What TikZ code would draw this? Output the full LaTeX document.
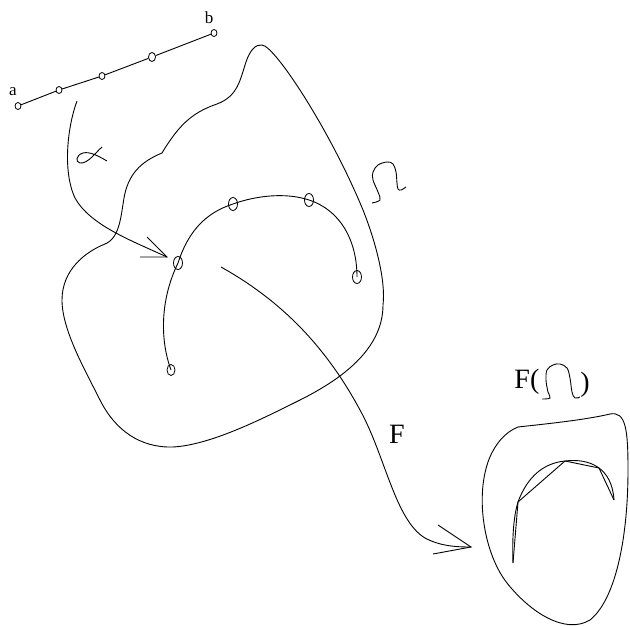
\documentclass[tikz,border=0pt]{standalone}
\usepackage{fontspec}
\setmainfont{Liberation Serif}
\usetikzlibrary{shapes.geometric}
\begin{document}
\begin{tikzpicture}[x=1pt,y=-1pt,line width=0.9pt,
  dotp/.style={draw,ellipse,inner sep=0pt,minimum width=6pt,minimum height=7pt,line width=0.8pt},
  bigp/.style={draw,ellipse,inner sep=0pt,minimum width=9pt,minimum height=13pt,line width=0.8pt},
  curve/.style={line width=0.9pt},
  small/.style={font=\fontsize{17}{19}\selectfont,inner sep=0pt},
  large/.style={font=\fontsize{28}{30}\selectfont,inner sep=0pt}]
\useasboundingbox (0,0) rectangle (630,626);
% segment a-b
\node[dotp] (s1) at (18,106) {};
\node[dotp] (s2) at (59,90) {};
\node[dotp] (s3) at (102,76) {};
\node[dotp,minimum width=7pt,minimum height=9pt] (s4) at (152,57) {};
\node[dotp] (s5) at (214,33) {};
\draw[curve] (s1) -- (s2) -- (s3) -- (s4) -- (s5);
\node[small] (la) at (13,92) {a};
\node[small] (lb) at (209,18) {b};
% domain outline
\draw[curve] (165,148) .. controls (178,128) and (190,113) .. (217,104)
  .. controls (238,96) and (240,80) .. (246,62)
  .. controls (250,50) and (256,44) .. (262,45)
  .. controls (275,46) and (330,130) .. (363,210)
  .. controls (375,240) and (386,280) .. (383,305)
  .. controls (383,350) and (340,380) .. (300,400)
  .. controls (260,420) and (210,445) .. (173,447)
  .. controls (140,448) and (115,430) .. (100,400)
  .. controls (85,370) and (62,330) .. (62,300)
  .. controls (62,270) and (85,252) .. (105,244)
  .. controls (120,238) and (121,215) .. (124,198)
  .. controls (128,175) and (140,162) .. (162,153) -- (165,148);
% Omega sign
\draw[curve] plot[smooth,tension=0.6] coordinates {(372,203) (380,200) (378,192) (373,180) (373,172) (378,165) (387,162) (393,164) (396,172) (397,183) (398,189) (401,190) (406,187)};
% alpha arrow
\coordinate (astart) at (77,101);
\coordinate (atip) at (167,257);
\coordinate (ab1) at (147,237);
\coordinate (ab2) at (140,257);
\draw[curve] (astart) .. controls (68,125) and (62,170) .. (75,198) .. controls (90,225) and (130,240) .. (atip);
\draw[curve] (ab1) -- (atip) -- (ab2);
% alpha symbol
\draw[curve] (102,147) .. controls (96,152) and (88,164) .. (80,163) .. controls (75,162) and (76,155) .. (83,153) .. controls (90,151) and (100,157) .. (107,161);
% inner curve
\node[bigp,minimum width=8pt,minimum height=11pt] (c1) at (171,370) {};
\node[bigp] (c2) at (178,263) {};
\node[bigp] (c3) at (233,204) {};
\node[bigp] (c4) at (309,200) {};
\node[bigp] (c5) at (357,277) {};
\draw[curve] (c1.center) .. controls (160,340) and (160,300) .. (c2.center)
  .. controls (188,232) and (205,213) .. (c3.center)
  .. controls (255,196) and (285,192) .. (c4.center)
  .. controls (340,210) and (357,240) .. (c5.center);
% F arrow
\coordinate (fstart) at (221,267);
\coordinate (ftip) at (471,547);
\coordinate (fb1) at (438,525);
\coordinate (fb2) at (433,554);
\draw[curve] (fstart) .. controls (280,300) and (325,345) .. (360,410)
  .. controls (385,455) and (395,520) .. (425,538)
  .. controls (440,546) and (455,547) .. (ftip);
\draw[curve] (fb1) -- (ftip) -- (fb2);
\node[large] (lF) at (397,434) {F};
% F(Omega)
\node[large,anchor=west] (lFo) at (514,382) {F(};
\node[large,anchor=west] (lFc) at (580,385) {)};
\draw[curve] plot[smooth,tension=0.6] coordinates {(542,399) (550,398) (548,392) (546,380) (547,370) (553,365) (560,364) (567,368) (570,378) (572,392) (575,398) (580,397)};
% image region outline
\draw[curve] (518,427) .. controls (545,424) and (585,420) .. (610,414)
  .. controls (626,411) and (628,430) .. (628,470)
  .. controls (628,540) and (615,600) .. (590,620)
  .. controls (565,635) and (530,612) .. (507,583)
  .. controls (485,555) and (475,500) .. (488,462)
  .. controls (494,445) and (505,432) .. (518,427);
% image curve and polygon
\coordinate (q1) at (513,563);
\coordinate (q2) at (518,502);
\coordinate (q3) at (565,461);
\coordinate (q4) at (599,468);
\coordinate (q5) at (614,500);
\draw[curve] (q1) .. controls (512,535) and (514,515) .. (q2)
  .. controls (528,475) and (545,463) .. (q3)
  .. controls (590,458) and (612,468) .. (q5);
\draw[curve] (q1) -- (q2) -- (q3) -- (q4) -- (q5);
\end{tikzpicture}
\end{document}
